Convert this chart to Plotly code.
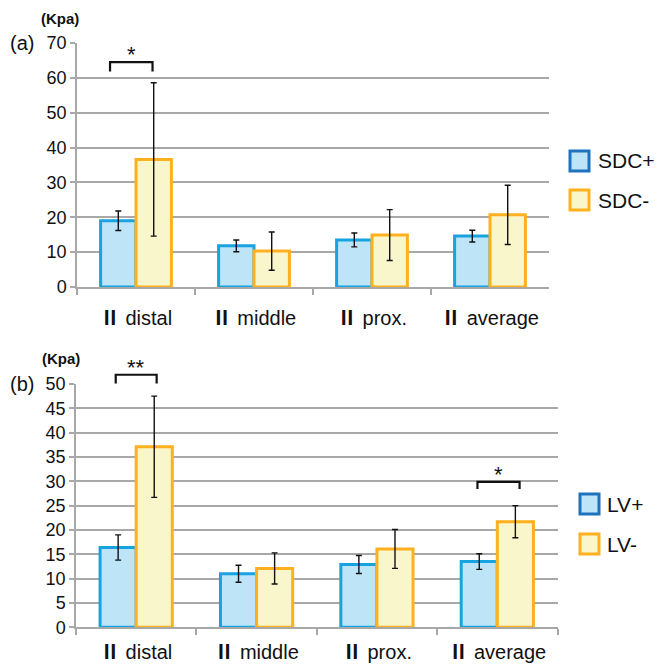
import plotly.graph_objects as go

categories = ["Ⅱ distal", "Ⅱ middle", "Ⅱ prox.", "Ⅱ average"]

sdc_pos = [19.0, 11.8, 13.5, 14.6]
sdc_pos_err = [2.8, 1.7, 2.0, 1.7]
sdc_neg = [36.6, 10.3, 14.9, 20.7]
sdc_neg_err = [22.0, 5.5, 7.3, 8.5]

lv_pos = [16.4, 11.0, 12.9, 13.5]
lv_pos_err = [2.6, 1.75, 1.85, 1.6]
lv_neg = [37.1, 12.1, 16.1, 21.7]
lv_neg_err = [10.4, 3.2, 4.0, 3.3]

top_ticks = [0, 10, 20, 30, 40, 50, 60, 70]
bottom_ticks = [0, 5, 10, 15, 20, 25, 30, 35, 40, 45, 50]
top_range = [0, 70]
bottom_range = [0, 50]

top_legend = ["SDC+", "SDC-"]
bottom_legend = ["LV+", "LV-"]

# significance brackets: (axis suffix, category index, left, right, top, tick bottom, label)
brackets = [
    ("", 0, -0.22, 0.14, 64.5, 61.8, "*"),
    ("2", 0, -0.17, 0.17, 51.9, 50.1, "**"),
    ("2", 3, -0.165, 0.185, 29.9, 28.4, "*"),
]

BLUE_FILL = "#BDE4F7"
BLUE_LINE = "#17A3E0"
BLUE_LEG = "#1E73BE"
ORNG_FILL = "#FAF6CB"
ORNG_LINE = "#FFB01E"
GRID = "#A8A8A8"
FONT = "Liberation Sans, Arial, sans-serif"
CJK = "Noto Sans CJK JP"

# tick text: roman numeral drawn heavier, followed by a gap
def tick_label(cat):
    head, rest = cat.split(" ", 1)
    return f'<b><span style="font-family:{CJK};font-size:20px">{head}</span></b>\u00a0{rest}'

tick_text = [tick_label(c) for c in categories]

fig = go.Figure()

def add_pair(pos, pos_err, neg, neg_err, xa, ya, names):
    fig.add_trace(go.Bar(
        x=categories, y=pos, name=names[0], xaxis=xa, yaxis=ya,
        marker=dict(color=BLUE_FILL, line=dict(color=BLUE_LINE, width=3)),
        error_y=dict(type="data", array=pos_err, color="#111111", thickness=1.4, width=3),
        showlegend=False,
    ))
    fig.add_trace(go.Bar(
        x=categories, y=neg, name=names[1], xaxis=xa, yaxis=ya,
        marker=dict(color=ORNG_FILL, line=dict(color=ORNG_LINE, width=3)),
        error_y=dict(type="data", array=neg_err, color="#111111", thickness=1.4, width=3),
        showlegend=False,
    ))

add_pair(sdc_pos, sdc_pos_err, sdc_neg, sdc_neg_err, "x", "y", top_legend)
add_pair(lv_pos, lv_pos_err, lv_neg, lv_neg_err, "x2", "y2", bottom_legend)

W = 665.0
def px(v):
    return v / W
def py(v):
    return 1 - v / W

xaxis_common = dict(
    type="category", showgrid=False, showline=True, linecolor=GRID, linewidth=1.5,
    ticks="outside", tickson="boundaries", ticklen=6, tickcolor=GRID, tickwidth=1.5,
    tickfont=dict(family=FONT, size=20, color="#111111"), fixedrange=True,
    automargin=False, tickmode="array", tickvals=categories, ticktext=tick_text,
)
yaxis_common = dict(
    showgrid=True, gridcolor=GRID, gridwidth=1.5, showline=True, linecolor=GRID,
    linewidth=1.5, ticks="outside", ticklen=5, tickcolor=GRID, tickwidth=1.5,
    tickfont=dict(family=FONT, size=18, color="#111111"), zeroline=False,
    fixedrange=True, automargin=False,
)

fig.update_layout(
    width=665, height=665,
    margin=dict(l=0, r=0, t=0, b=0, autoexpand=False),
    paper_bgcolor="white", plot_bgcolor="white",
    barmode="group", bargap=0.4, bargroupgap=0,
    font=dict(family=FONT, color="#111111"),
    xaxis=dict(xaxis_common, domain=[px(77), px(549)], anchor="y", ticklabelstandoff=12),
    yaxis=dict(yaxis_common, domain=[py(287), py(43)], anchor="x", range=top_range,
               tickvals=top_ticks),
    xaxis2=dict(xaxis_common, domain=[px(76), px(557.5)], anchor="y2", ticklabelstandoff=6),
    yaxis2=dict(yaxis_common, domain=[py(627.3), py(384)], anchor="x2", range=bottom_range,
                tickvals=bottom_ticks),
)

ranges = {"": top_range, "2": bottom_range}

shapes = []
annotations = []

for ax, idx, left, right, top, bot, label in brackets:
    r0, r1 = ranges[ax]
    xr = "x" + ax
    yr = "y" + ax + " domain"
    t = (top - r0) / (r1 - r0)
    b = (bot - r0) / (r1 - r0)
    shapes.append(dict(
        type="path", xref=xr, yref=yr,
        path=f"M {idx + left} {b} L {idx + left} {t} L {idx + right} {t} L {idx + right} {b}",
        line=dict(color="#111111", width=2.2),
    ))
    annotations.append(dict(
        x=idx + (left + right) / 2, y=t, xref=xr, yref=yr, text=label,
        showarrow=False, yanchor="bottom", yshift=-7,
        font=dict(family=FONT, size=22, color="#111111"),
    ))

# panel labels and units
annotations += [
    dict(x=px(8), y=py(43), xref="paper", yref="paper", text="(a)", showarrow=False,
         xanchor="left", yanchor="middle", font=dict(family=FONT, size=20, color="#111111")),
    dict(x=px(39), y=py(18), xref="paper", yref="paper", text="<b>(Kpa)</b>", showarrow=False,
         xanchor="left", yanchor="middle", font=dict(family=FONT, size=15, color="#111111")),
    dict(x=px(8), y=py(384), xref="paper", yref="paper", text="(b)", showarrow=False,
         xanchor="left", yanchor="middle", font=dict(family=FONT, size=20, color="#111111")),
    dict(x=px(40), y=py(358), xref="paper", yref="paper", text="<b>(Kpa)</b>", showarrow=False,
         xanchor="left", yanchor="middle", font=dict(family=FONT, size=15, color="#111111")),
]

# legends
def legend_item(x0, y0, fill, border, label, tx):
    shapes.append(dict(type="rect", xref="paper", yref="paper",
                       x0=px(x0), x1=px(x0 + 19), y0=py(y0 + 20), y1=py(y0),
                       fillcolor=fill, line=dict(color=border, width=3)))
    annotations.append(dict(x=px(tx), y=py(y0 + 10), xref="paper", yref="paper", text=label,
                            showarrow=False, xanchor="left", yanchor="middle",
                            font=dict(family=FONT, size=21, color="#111111")))

legend_item(570, 151, BLUE_FILL, BLUE_LEG, top_legend[0], 596)
legend_item(570, 190, ORNG_FILL, ORNG_LINE, top_legend[1], 596)
legend_item(580, 494, BLUE_FILL, BLUE_LEG, bottom_legend[0], 605)
legend_item(580, 534, ORNG_FILL, ORNG_LINE, bottom_legend[1], 605)

fig.update_layout(shapes=shapes, annotations=annotations)

fig.write_html(
    "out.html",
    config={"displayModeBar": False},
    post_script="document.body.style.margin='0px';document.body.style.overflow='hidden';",
)
